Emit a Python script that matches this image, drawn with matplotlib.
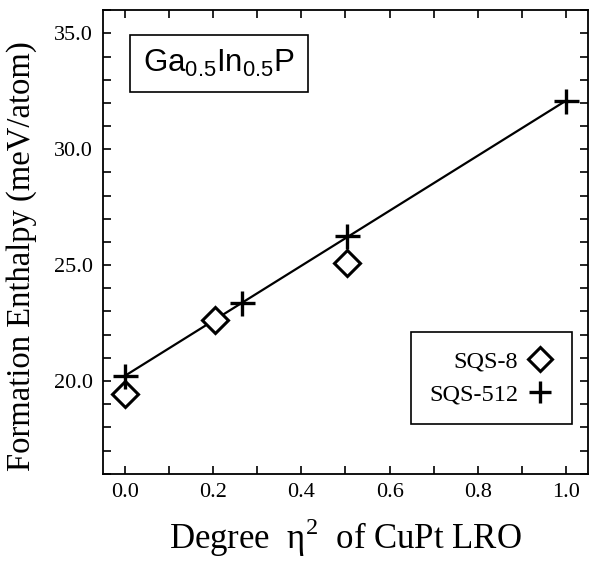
import matplotlib
matplotlib.use("Agg")
import matplotlib.pyplot as plt
from matplotlib.ticker import MultipleLocator

plt.rcParams['font.family'] = ['Liberation Serif', 'DejaVu Serif']
plt.rcParams['mathtext.fontset'] = 'custom'
plt.rcParams['mathtext.rm'] = 'Liberation Serif'
plt.rcParams['mathtext.sf'] = 'Liberation Sans'

# SQS-8 points (diamonds)
sqs8_x = [0.0, 0.205, 0.503]
sqs8_y = [19.44, 22.63, 25.09]

# SQS-512 points (plus)
sqs512_x = [0.0, 0.265, 0.503, 1.0]
sqs512_y = [20.2, 23.35, 26.24, 32.1]

# straight line through SQS-512
fit_x = [0.0, 1.0]
fit_y = [20.22, 32.1]

xticks = [0.0, 0.2, 0.4, 0.6, 0.8, 1.0]
yticks = [20.0, 25.0, 30.0, 35.0]

fig = plt.figure(figsize=(5.9, 5.64), dpi=100)
ax = fig.add_axes([0.174, 0.16, 0.823, 0.822])

ax.plot(fit_x, fit_y, color='black', lw=1.6, zorder=2)
ax.plot(sqs8_x, sqs8_y, ls='none', marker='D', ms=13.5, mfc='white', mec='black',
        mew=2.2, label='SQS-8', zorder=3)
ax.plot(sqs512_x, sqs512_y, ls='none', marker='+', ms=18, mec='black', mew=2.4,
        label='SQS-512', zorder=4)

ax.set_xlim(-0.05, 1.05)
ax.set_ylim(16.0, 36.0)
ax.set_xticks(xticks)
ax.set_xticklabels([f"{v:.1f}" for v in xticks])
ax.set_yticks(yticks)
ax.set_yticklabels([f"{v:.1f}" for v in yticks])
ax.xaxis.set_minor_locator(MultipleLocator(0.1))
ax.yaxis.set_minor_locator(MultipleLocator(1.0))
ax.tick_params(which='both', direction='in', top=True, right=True, length=6,
               width=1.2, labelsize=16, pad=7)

for s in ax.spines.values():
    s.set_linewidth(1.3)

ax.set_xlabel(r"Degree  η$^{2}$  of CuPt LRO", fontsize=25, labelpad=10)
ax.set_ylabel("Formation Enthalpy (meV/atom)", fontsize=23.5)
ax.yaxis.set_label_coords(-0.135, 0.47)

ax.text(0.24, 0.885, r"$\mathsf{Ga_{0.5}In_{0.5}P}$", transform=ax.transAxes,
        ha='center', va='center', fontsize=22.5,
        bbox=dict(boxstyle='square,pad=0.42', fc='white', ec='black', lw=1.2))

leg = ax.legend(loc='lower right', bbox_to_anchor=(0.966, 0.108), borderaxespad=0,
                markerfirst=False, fontsize=17.5, frameon=True, fancybox=False,
                edgecolor='black', framealpha=1, handlelength=1.1,
                handletextpad=0.35, labelspacing=0.45, borderpad=0.75,
                markerscale=0.9)
leg.get_frame().set_linewidth(1.2)
for t in leg.get_texts():
    t.set_ha('right')

fig.savefig("out.png", dpi=100)
